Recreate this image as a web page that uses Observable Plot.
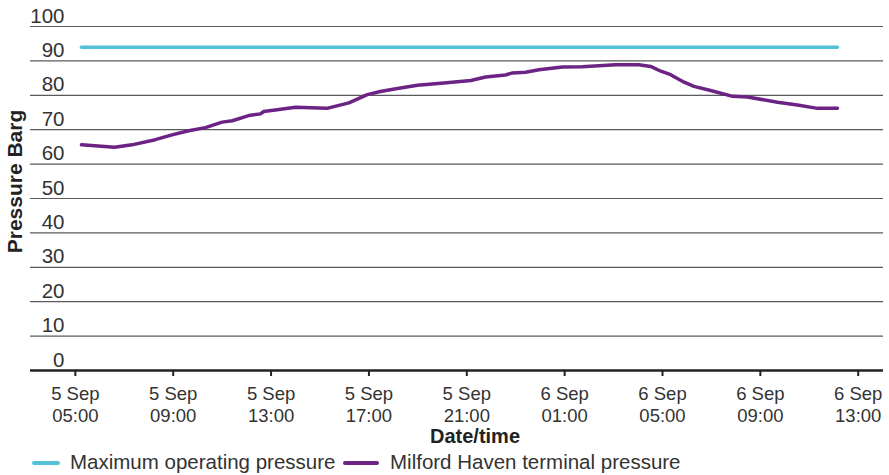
<!DOCTYPE html>
<html>
<head>
<meta charset="utf-8">
<script src="https://cdn.jsdelivr.net/npm/d3@7"></script>
<script src="https://cdn.jsdelivr.net/npm/@observablehq/plot@0.6"></script>
<style>
  html, body { margin: 0; padding: 0; background: #fff; }
  body { width: 889px; height: 475px; overflow: hidden; font-family: "Liberation Sans", Arial, sans-serif; }
  #chart svg { display: block; }
  .legend { position: relative; height: 25px; font-size: 20.5px; color: #333; }
  .legend .sw { position: absolute; top: 11px; height: 4px; border-radius: 2px; }
  .legend .lb { position: absolute; top: 0px; line-height: 23px; white-space: nowrap; }
</style>
</head>
<body>
<div id="chart"></div>
<div class="legend" id="legend"></div>
<script>
// ---- data ----
const seriesNames = ["Maximum operating pressure", "Milford Haven terminal pressure"];
const seriesColors = ["#52c1d7", "#6b2384"];

// Milford Haven terminal pressure (barg)
const milfordTimes = [
  "09-05 05:15", "09-05 06:36", "09-05 07:19", "09-05 08:16", "09-05 08:57",
  "09-05 09:38", "09-05 10:19", "09-05 11:00", "09-05 11:25", "09-05 12:05",
  "09-05 12:34", "09-05 12:42", "09-05 13:15", "09-05 14:00", "09-05 15:17",
  "09-05 16:11", "09-05 16:56", "09-05 17:28", "09-05 18:10", "09-05 18:59",
  "09-05 20:04", "09-05 21:10", "09-05 21:46", "09-05 22:35", "09-05 22:52",
  "09-05 23:24", "09-05 23:57", "09-06 00:55", "09-06 01:43", "09-06 03:05",
  "09-06 04:02", "09-06 04:31", "09-06 04:56", "09-06 05:20", "09-06 05:53",
  "09-06 06:17", "09-06 06:58", "09-06 07:52", "09-06 08:28", "09-06 09:42",
  "09-06 10:31", "09-06 11:20", "09-06 12:09"
];
const milfordValues = [
  65.6, 64.9, 65.6, 67.1, 68.5,
  69.7, 70.6, 72.2, 72.6, 74.1,
  74.6, 75.3, 75.8, 76.5, 76.2,
  77.8, 80.2, 81.1, 82.0, 82.9,
  83.6, 84.3, 85.3, 85.9, 86.5,
  86.7, 87.4, 88.2, 88.3, 88.9,
  88.9, 88.4, 87.0, 86.0, 83.8,
  82.6, 81.4, 79.7, 79.5, 78.0,
  77.2, 76.2, 76.2
];

// Maximum operating pressure (barg)
const mopTimes = ["09-05 05:15", "09-06 12:09"];
const mopValues = [94, 94];

// axes
const xTicks = ["09-05 05:00", "09-05 09:00", "09-05 13:00", "09-05 17:00", "09-05 21:00",
                "09-06 01:00", "09-06 05:00", "09-06 09:00", "09-06 13:00"];
const xDomain = ["09-05 03:10", "09-06 14:02"];
const yTicks = [0, 10, 20, 30, 40, 50, 60, 70, 80, 90, 100];
const yDomain = [0, 100];
const xLabel = "Date/time";
const yLabel = "Pressure Barg";

// ---- build ----
const parse = d3.utcParse("%m-%d %H:%M");
const fmtDay = d3.utcFormat("%-d %b");
const fmtTime = d3.utcFormat("%H:%M");

const milford = milfordTimes.map((t, i) => ({time: parse(t), value: milfordValues[i]}));
const mop = mopTimes.map((t, i) => ({time: parse(t), value: mopValues[i]}));

const chart = Plot.plot({
  width: 889,
  height: 450,
  marginTop: 26,
  marginBottom: 80,
  marginLeft: 30,
  marginRight: 6,
  style: {fontFamily: '"Liberation Sans", Arial, sans-serif', fontSize: "20px", color: "#333", background: "#fff"},
  x: {type: "utc", domain: xDomain.map(parse)},
  y: {domain: yDomain},
  marks: [
    Plot.ruleY(yTicks.filter(d => d > 0), {stroke: "#5a5a5a", strokeWidth: 1.2}),
    Plot.axisY({ticks: yTicks, tickSize: 0, dx: 43, dy: -10.5, label: null, fontSize: 20.5, fill: "#333"}),
    Plot.axisX({
      ticks: xTicks.map(parse),
      tickFormat: d => fmtDay(d) + "\n" + fmtTime(d),
      tickSize: 6, tickPadding: 9, strokeWidth: 2, stroke: "#222",
      label: null, fontSize: 18.5, lineHeight: 1.14, fill: "#333"
    }),
    Plot.ruleY([0], {stroke: "#222", strokeWidth: 2.5}),
    Plot.line(mop, {x: "time", y: "value", stroke: seriesColors[0], strokeWidth: 3.5}),
    Plot.line(milford, {x: "time", y: "value", stroke: seriesColors[1], strokeWidth: 3.5, strokeLinejoin: "round"}),
    Plot.text([yLabel], {frameAnchor: "left", textAnchor: "middle", lineAnchor: "middle", rotate: -90, dx: -15, dy: -17, fontWeight: "bold", fontSize: 21, fill: "#222"}),
    Plot.text([xLabel], {frameAnchor: "bottom", textAnchor: "middle", lineAnchor: "middle", dx: 18, dy: 66.3, fontWeight: "bold", fontSize: 20, fill: "#222"})
  ]
});
document.getElementById("chart").appendChild(chart);

// legend
const legend = document.getElementById("legend");
const legendPos = [{sw: 32, sww: 28, lb: 70}, {sw: 343, sww: 36, lb: 390}];
seriesNames.forEach((name, i) => {
  const sw = document.createElement("span");
  sw.className = "sw";
  sw.style.left = legendPos[i].sw + "px";
  sw.style.width = legendPos[i].sww + "px";
  sw.style.background = seriesColors[i];
  const lb = document.createElement("span");
  lb.className = "lb";
  lb.style.left = legendPos[i].lb + "px";
  lb.textContent = name;
  legend.appendChild(sw);
  legend.appendChild(lb);
});
</script>
</body>
</html>
